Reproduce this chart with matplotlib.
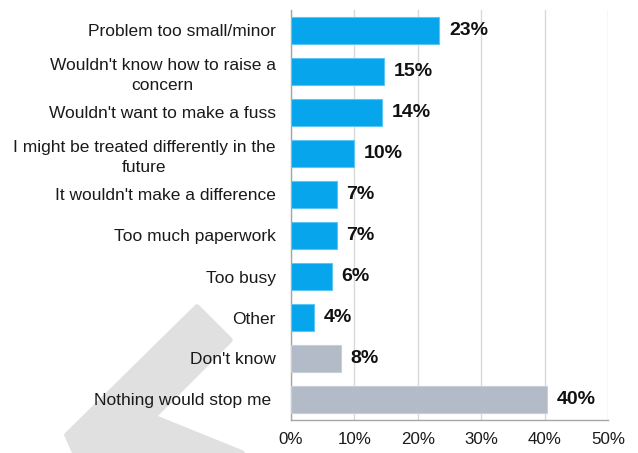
import numpy as np
import matplotlib.pyplot as plt
from matplotlib.patches import Polygon

plt.rcParams['font.family'] = ['Liberation Sans', 'DejaVu Sans']

categories = ["Problem too small/minor",
              "Wouldn't know how to raise a\nconcern",
              "Wouldn't want to make a fuss",
              "I might be treated differently in the\nfuture",
              "It wouldn't make a difference",
              "Too much paperwork",
              "Too busy",
              "Other",
              "Don't know",
              "Nothing would stop me "]
values = [23.4, 14.7, 14.3, 9.9, 7.2, 7.2, 6.4, 3.6, 7.9, 40.4]
labels = ["23%", "15%", "14%", "10%", "7%", "7%", "6%", "4%", "8%", "40%"]
is_grey = [False] * 8 + [True] * 2
xticks = [0, 10, 20, 30, 40, 50]

blue = '#06A5EC'
grey = '#B3BAC8'

fig = plt.figure(figsize=(6.38, 4.53), dpi=100)

# watermark shape in the lower left (pixel coords, y down)
wm = [(197, 307), (230, 340), (153, 417), (242, 453), (75, 453), (67, 435)]
wm = [(x / 638, 1 - y / 453) for x, y in wm]
fig.add_artist(Polygon(wm, closed=True, transform=fig.transFigure,
                       facecolor='#E0E0E0', edgecolor='#E0E0E0',
                       linewidth=4, joinstyle='round', zorder=-1))

ax = fig.add_axes([291 / 638, 1 - 420 / 453, 317 / 638, 410 / 453])
ax.patch.set_alpha(0)

y = np.arange(len(categories))
colors = [grey if g else blue for g in is_grey]
edges = ['#C9CFDA' if g else '#5CC6F5' for g in is_grey]
ax.barh(y, values, height=0.66, color=colors, edgecolor=edges, linewidth=0.8, zorder=3)

for yi, v, lab in zip(y, values, labels):
    ax.annotate(lab, (v, yi), xytext=(7, 0), textcoords='offset points',
                va='center', ha='left', fontsize=14, fontweight='bold', color='#111111')

ax.set_yticks(y)
ax.set_yticklabels(categories, fontsize=12.5, color='#1a1a1a',
                   multialignment='center', linespacing=1.4)
ax.set_ylim(len(categories) - 0.5, -0.5)
ax.set_xlim(0, 50)
ax.set_xticks(xticks)
ax.set_xticklabels([f"{t}%" for t in xticks], fontsize=12.2, color='#1a1a1a')
ax.tick_params(axis='y', length=0, pad=11)
ax.tick_params(axis='x', length=0, pad=9)

ax.grid(axis='x', color='#D9D9D9', linewidth=1, zorder=0)
ax.set_axisbelow(True)
for s in ['top', 'right']:
    ax.spines[s].set_visible(False)
for s in ['left', 'bottom']:
    ax.spines[s].set_color('#A6A6A6')
    ax.spines[s].set_linewidth(1)

plt.savefig("out.png", dpi=100)
